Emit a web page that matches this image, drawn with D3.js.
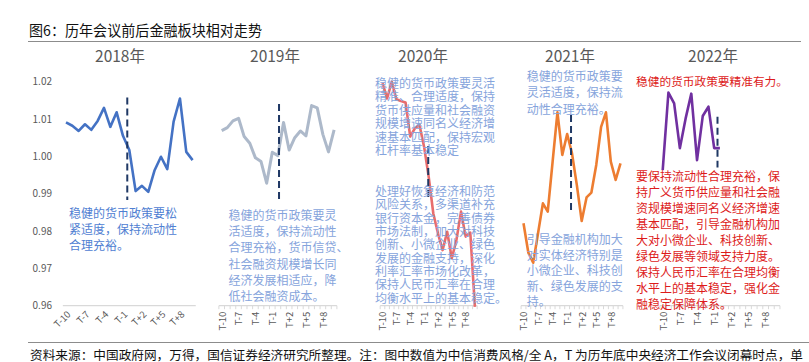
<!DOCTYPE html>
<html><head><meta charset="utf-8">
<script src="https://cdn.jsdelivr.net/npm/d3@7"></script>
<style>body{margin:0;background:#fff}svg{display:block}text{font-family:"Noto Sans CJK SC","Noto Sans",sans-serif}</style>
</head><body><svg id="c" width="809" height="362"></svg>
<script>
// ---------- data ----------
const chartTitle = "图6：历年会议前后金融板块相对走势";
const footerText = "资料来源：中国政府网，万得，国信证券经济研究所整理。注：图中数值为中信消费风格/全 A，T 为历年底中央经济工作会议闭幕时点，单";
const years = ["2018年", "2019年", "2020年", "2021年", "2022年"];
const categories = ["T-10","T-9","T-8","T-7","T-6","T-5","T-4","T-3","T-2","T-1","T0","T+1","T+2","T+3","T+4","T+5","T+6","T+7","T+8","T+9","T+10"];
const tickLabels = ["T-10","T-7","T-4","T-1","T+2","T+5","T+8"];
const yTicks = [0.96, 0.97, 0.98, 0.99, 1.00, 1.01, 1.02];
const yTickLabels = ["0.96","0.97","0.98","0.99","1.00","1.01","1.02"];

const values2018 = [1.0091,1.0082,1.0068,1.0086,1.0071,1.0095,1.0130,1.0079,1.0118,1.0055,1.0017,0.9907,0.9921,0.9905,0.9963,0.9999,0.9966,1.0093,1.0155,1.0012,0.9990];
const values2019 = [1.0069,1.0077,1.0095,1.0102,1.0053,1.0035,0.9996,0.9986,0.9928,1.0011,1.0002,1.0091,1.0017,1.0050,1.0068,1.0055,1.0136,1.0130,1.0059,1.0012,1.0071];
const values2020 = [1.0196,1.0155,1.0200,1.0153,1.0148,1.0144,1.0053,1.0075,1.0084,1.0026,0.9945,0.9847,0.9794,0.9749,0.9798,0.9727,0.9776,0.9852,0.9785,0.9796,0.9597];
const values2021 = [0.9821,0.9742,0.9715,0.9794,0.9874,0.9852,0.9985,1.0118,1.0004,1.0060,1.0008,0.9923,0.9827,0.9890,0.9903,0.9977,1.0079,1.0118,0.9986,0.9937,0.9981];
const values2022 = [0.9963,1.0171,1.0142,1.0022,1.0101,1.0168,0.9990,1.0108,1.0133,1.0022,1.0022];
const seriesValues = [values2018, values2019, values2020, values2021, values2022];

// dashed "meeting" markers: category position and value span
const dashIndex = [9.68, 10.2, 9.9, 9.8, 9.58];
const dashTop = [1.0158, 1.0140, 1.0028, 1.0111, 1.0106];
const dashBottom = [0.9883, 0.9885, 0.9881, 0.9856, 0.9970];

const notes2018 = ["稳健的货币政策要松", "紧适度，保持流动性", "合理充裕。"];
const notes2019 = ["稳健的货币政策要灵", "活适度，保持流动性", "合理充裕，货币信贷、", "社会融资规模增长同", "经济发展相适应，降", "低社会融资成本。"];
const notes2020a = ["稳健的货币政策要灵活", "精准、合理适度，保持", "货币供应量和社会融资", "规模增速同名义经济增", "速基本匹配，保持宏观", "杠杆率基本稳定"];
const notes2020b = ["处理好恢复经济和防范", "风险关系，多渠道补充", "银行资本金，完善债券", "市场法制，加大对科技", "创新、小微企业、绿色", "发展的金融支持，深化", "利率汇率市场化改革，", "保持人民币汇率在合理", "均衡水平上的基本稳定。"];
const notes2021a = ["稳健的货币政策要", "灵活适度，保持流", "动性合理充裕。"];
const notes2021b = ["引导金融机构加大", "对实体经济特别是", "小微企业、科技创", "新、绿色发展的支", "持。"];
const notes2022a = ["稳健的货币政策要精准有力。"];
const notes2022b = ["要保持流动性合理充裕，保", "持广义货币供应量和社会融", "资规模增速同名义经济增速", "基本匹配，引导金融机构加", "大对小微企业、科技创新、", "绿色发展等领域支持力度。", "保持人民币汇率在合理均衡", "水平上的基本稳定，强化金", "融稳定保障体系。"];

// ---------- layout ----------
const lineColors = ["#4472c4", "#adb9ca", "#e86d6d", "#ed7d31", "#7030a0"];
const lineWidths = [2.6, 3, 2.6, 2.6, 2.6];
const panelX0 = [66, 221.7, 382.5, 523.5, 662.7];
const panelStep = [6.33, 5.62, 4.62, 4.85, 5.72];
const titleX = [120, 275, 423, 570, 713];
const rotate45 = [true, false, false, false, false];
const showTicks = [false, true, true, true, true];

const notesLayout = [
  {lines: notes2018, x: 69, y: 217.5, lh: 16.4, color: "#4f80d2", fs: 12},
  {lines: notes2019, x: 228.5, y: 220, lh: 16.2, color: "#86a4dc", fs: 12},
  {lines: notes2020a, x: 375, y: 87.6, lh: 13.5, color: "#86a4dc", fs: 12},
  {lines: notes2020b, x: 375, y: 196, lh: 13.33, color: "#86a4dc", fs: 12},
  {lines: notes2021a, x: 526.7, y: 81, lh: 16.3, color: "#86a4dc", fs: 12},
  {lines: notes2021b, x: 526.7, y: 244.3, lh: 15.4, color: "#86a4dc", fs: 12},
  {lines: notes2022a, x: 636, y: 85.8, lh: 16, color: "#dd1b1b", fs: 11.7},
  {lines: notes2022b, x: 636, y: 181, lh: 16.04, color: "#dd1b1b", fs: 12}
];

const svg = d3.select("#c");
const y = d3.scaleLinear().domain([0.96, 1.02]).range([305.7, 81.7]);

// title and rules
svg.append("text").attr("x", 29).attr("y", 35.5).attr("font-size", 14.5).attr("fill", "#111")
  .attr("textLength", 233).attr("lengthAdjust", "spacingAndGlyphs").text(chartTitle);
svg.append("line").attr("x1", 28).attr("x2", 801).attr("y1", 41.5).attr("y2", 41.5).attr("stroke", "#8c8c8c").attr("stroke-width", 1);
svg.append("line").attr("x1", 28).attr("x2", 809).attr("y1", 342.5).attr("y2", 342.5).attr("stroke", "#8c8c8c").attr("stroke-width", 1);
svg.append("text").attr("x", 30).attr("y", 359.5).attr("font-size", 12.5).attr("fill", "#111")
  .attr("textLength", 773).attr("lengthAdjust", "spacingAndGlyphs").text(footerText);

// y axis labels (first panel only)
svg.append("g").selectAll("text").data(yTicks).join("text")
  .attr("x", 52).attr("y", d => y(d)).attr("dy", "0.35em").attr("text-anchor", "end")
  .attr("font-size", 10).attr("fill", "#595959")
  .text((d, i) => yTickLabels[i]);

years.forEach((yr, p) => {
  const g = svg.append("g");
  const x = d3.scalePoint().domain(categories).range([panelX0[p], panelX0[p] + panelStep[p] * (categories.length - 1)]);
  const xi = d3.scaleLinear().domain([0, categories.length - 1]).range(x.range());
  const half = panelStep[p] / 2;

  // panel title
  g.append("text").attr("x", titleX[p]).attr("y", 57).attr("dy", "0.35em").attr("text-anchor", "middle")
    .attr("font-size", 15.5).attr("fill", "#595959").text(yr);

  // axis line
  g.append("line").attr("x1", x.range()[0] - half).attr("x2", x.range()[1] + half)
    .attr("y1", y(0.96)).attr("y2", y(0.96)).attr("stroke", "#d9d9d9").attr("stroke-width", 1.2);
  if (showTicks[p]) {
    const bounds = d3.range(categories.length + 1).map(i => xi(i - 0.5));
    g.append("g").selectAll("line").data(bounds).join("line")
      .attr("x1", d => d).attr("x2", d => d).attr("y1", y(0.96)).attr("y2", y(0.96) + 3.5)
      .attr("stroke", "#d9d9d9").attr("stroke-width", 1);
  }

  // tick labels
  g.append("g").selectAll("text").data(tickLabels).join("text")
    .attr("font-size", 9.5).attr("fill", "#595959").attr("text-anchor", "end")
    .attr("transform", d => rotate45[p]
      ? `translate(${x(d) + 3},${y(0.96) + 7}) rotate(-45)`
      : `translate(${x(d) + 0.5},${y(0.96) + 6}) rotate(-90)`)
    .attr("dy", "0.35em")
    .text(d => d);

  // series line
  const vals = seriesValues[p];
  g.append("path").datum(vals)
    .attr("fill", "none").attr("stroke", lineColors[p]).attr("stroke-width", lineWidths[p])
    .attr("stroke-linejoin", "round")
    .attr("d", d3.line().x((d, i) => x(categories[i])).y(d => y(d)));

  // dashed marker
  g.append("line").attr("x1", xi(dashIndex[p])).attr("x2", xi(dashIndex[p]))
    .attr("y1", y(dashTop[p])).attr("y2", y(dashBottom[p]))
    .attr("stroke", "#1f3864").attr("stroke-width", 2).attr("stroke-dasharray", "7,4");
});

// annotations
notesLayout.forEach(n => {
  svg.append("g").selectAll("text").data(n.lines).join("text")
    .attr("x", n.x).attr("y", (d, i) => n.y + i * n.lh)
    .attr("font-size", n.fs).attr("fill", n.color).text(d => d);
});
</script></body></html>
